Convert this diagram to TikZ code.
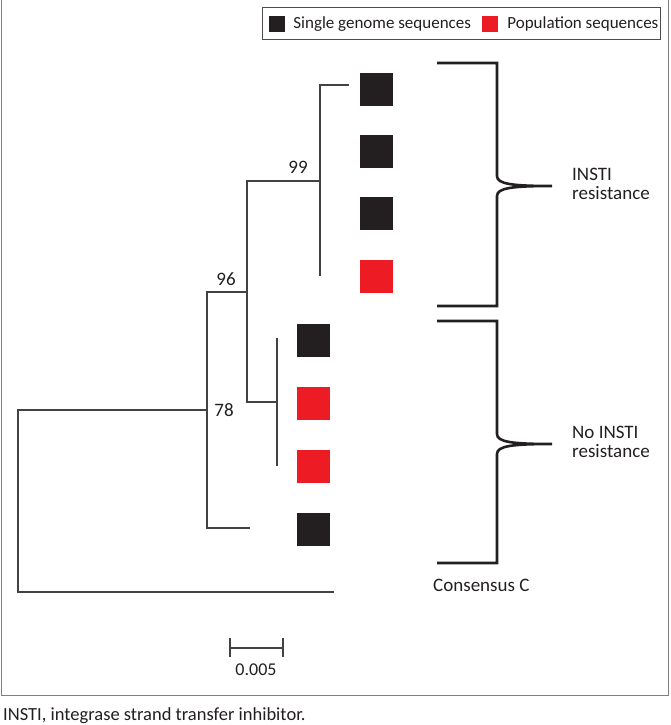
\documentclass[tikz,border=0pt]{standalone}
\usepackage{fontspec}
\setmainfont{Carlito}
\usetikzlibrary{positioning}
\definecolor{inkgray}{HTML}{231F20}
\definecolor{popred}{HTML}{ED1C24}

\begin{document}
\begin{tikzpicture}[
        x=1pt, y=-1pt,
        every node/.style={font=\fontsize{19}{19.5}\selectfont, text=inkgray},
        sgs/.style={fill=inkgray, minimum size=33pt, inner sep=0pt},
        pops/.style={fill=popred, minimum size=33pt, inner sep=0pt},
        keybox/.style={minimum size=16pt, inner sep=0pt},
        branch/.style={draw=inkgray!85, line width=1.3pt},
        bracket/.style={draw=inkgray, line width=2.6pt},
        lbl/.style={anchor=west, inner sep=0pt, align=left},
        keytext/.style={lbl, font=\fontsize{17}{18}\selectfont}
        ]
        \useasboundingbox (0,0) rectangle (670,725);

        % Frame
        \draw[gray, line width=1pt] (1,0) rectangle (668,695);

        % Legend
        \node[draw=inkgray!80, line width=0.8pt, minimum width=398pt, minimum height=32pt] (legend) at (461,23) {};
        \node[keybox, fill=inkgray] (keysgs) at (277,24) {};
        \node[keytext, right=8pt of keysgs] (keysgstext) {Single genome sequences};
        \node[keybox, fill=popred] (keypop) at (490,24) {};
        \node[keytext, right=9pt of keypop] (keypoptext) {Population sequences};

        % Sequences
        \node[sgs] (s1) at (376,89) {};
        \node[sgs] (s2) at (376,151) {};
        \node[sgs] (s3) at (376,213) {};
        \node[pops] (s4) at (376,276) {};
        \node[sgs] (s5) at (313,340) {};
        \node[pops] (s6) at (313,403) {};
        \node[pops] (s7) at (313,466) {};
        \node[sgs] (s8) at (313,529) {};

        % Tree
        \coordinate (n99) at (320,181);
        \coordinate (n96) at (247,292);
        \coordinate (n78) at (207,410);
        \coordinate (root) at (18,410);
        \coordinate (sub) at (277,402);
        \draw[branch] (349,85) -| (320,276);
        \draw[branch] (n99) -- (247,181) -- (247,402) -- (sub);
        \draw[branch] (277,338) -- (277,466);
        \draw[branch] (n96) -- (207,292) -- (207,528) -- (250,528);
        \draw[branch] (n78) -- (root) -- (18,592) -- (334,592);

        % Support values
        \node (b99) at (298,167) {99};
        \node (b96) at (226,279) {96};
        \node (b78) at (224,410) {78};

        % Brackets
        \draw[bracket] (437,63) -- (497,63) -- (497,176)
            .. controls (497,184) and (512,186) .. (552,186)
            .. controls (512,186) and (497,188) .. (497,196) -- (497,306) -- (437,306);
        \draw[bracket] (437,321) -- (497,321) -- (497,434)
            .. controls (497,442) and (512,444) .. (552,444)
            .. controls (512,444) and (497,446) .. (497,454) -- (497,563) -- (437,563);
        \node[lbl] (insti) at (572,184) {INSTI\\resistance};
        \node[lbl] (noinsti) at (572,442) {No INSTI\\resistance};
        \node[lbl] (consensus) at (433,585) {Consensus C};

        % Scale bar
        \coordinate (sbl) at (230,648);
        \coordinate (sbr) at (283,648);
        \draw[branch] (sbl) -- (sbr);
        \draw[branch] (230,638) -- (230,657);
        \draw[branch] (283,638) -- (283,657);
        \node[font=\fontsize{18}{18}\selectfont] (scale) at (256,670) {0.005};

        % Caption
        \node[lbl, anchor=base west, font=\fontsize{18.5}{18}\selectfont] (caption) at (3,720) {INSTI, integrase strand transfer inhibitor.};
\end{tikzpicture}
\end{document}
